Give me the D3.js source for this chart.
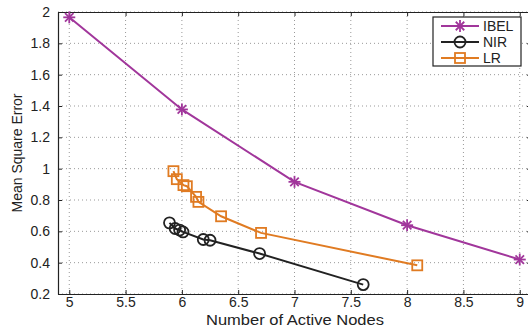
<!DOCTYPE html>
<html>
<head>
<meta charset="utf-8">
<script src="https://cdn.jsdelivr.net/npm/d3@7"></script>
<style>
  body { margin: 0; background: #fff; }
  text { font-family: "Liberation Sans", Arial, sans-serif; fill: #222; }
</style>
</head>
<body>
<svg id="chart" width="528" height="328"></svg>
<script>
// data
var ibelX = [5, 6, 7, 8, 9];
var ibelY = [1.966, 1.378, 0.916, 0.639, 0.42];
var nirX = [5.89, 5.94, 5.98, 6.01, 6.19, 6.25, 6.69, 7.61];
var nirY = [0.654, 0.618, 0.608, 0.596, 0.548, 0.543, 0.458, 0.26];
var lrX = [5.925, 5.955, 6.014, 6.044, 6.126, 6.147, 6.348, 6.703, 8.09];
var lrY = [0.984, 0.933, 0.895, 0.888, 0.82, 0.788, 0.696, 0.59, 0.383];
var xTicks = [5, 5.5, 6, 6.5, 7, 7.5, 8, 8.5, 9];
var yTicks = [0.2, 0.4, 0.6, 0.8, 1, 1.2, 1.4, 1.6, 1.8, 2];

var series = [
  {name: "IBEL", xs: ibelX, ys: ibelY, color: "#a1369b", marker: "star"},
  {name: "NIR", xs: nirX, ys: nirY, color: "#222222", marker: "circle"},
  {name: "LR", xs: lrX, ys: lrY, color: "#e07b22", marker: "square"}
];

var box = {left: 58, right: 531, top: 12, bottom: 294};

var x = d3.scaleLinear().domain([4.9, 9.1]).range([box.left, box.right]);
var y = d3.scaleLinear().domain([0.2, 2]).range([box.bottom, box.top]);

var svg = d3.select("#chart");

// dotted grid
svg.append("g").selectAll("line")
  .data(xTicks)
  .enter().append("line")
    .attr("x1", function(d) { return x(d); })
    .attr("x2", function(d) { return x(d); })
    .attr("y1", box.top).attr("y2", box.bottom)
    .attr("stroke", "#999").attr("stroke-width", 1)
    .attr("stroke-dasharray", "1,3");
svg.append("g").selectAll("line")
  .data(yTicks)
  .enter().append("line")
    .attr("y1", function(d) { return y(d); })
    .attr("y2", function(d) { return y(d); })
    .attr("x1", box.left).attr("x2", box.right)
    .attr("stroke", "#999").attr("stroke-width", 1)
    .attr("stroke-dasharray", "1,3");

// axes (ticks pointing inward, box around)
var fmt = function(d) { return d3.format("")(d); };
svg.append("g")
  .attr("transform", "translate(0," + box.bottom + ")")
  .call(d3.axisBottom(x).tickValues(xTicks).tickFormat(fmt).tickSizeInner(-4).tickSizeOuter(0).tickPadding(3));
svg.append("g")
  .attr("transform", "translate(" + box.left + ",0)")
  .call(d3.axisLeft(y).tickValues(yTicks).tickFormat(fmt).tickSizeInner(-4).tickSizeOuter(0).tickPadding(8));
svg.append("g")
  .attr("transform", "translate(0," + box.top + ")")
  .call(d3.axisTop(x).tickValues(xTicks).tickFormat("").tickSizeInner(-4).tickSizeOuter(0));
svg.append("g")
  .attr("transform", "translate(" + box.right + ",0)")
  .call(d3.axisRight(y).tickValues(yTicks).tickFormat("").tickSizeInner(-4).tickSizeOuter(0));

svg.selectAll(".domain").attr("stroke", "#222").attr("stroke-width", 1.2);
svg.selectAll(".tick line").attr("stroke", "#222");
svg.selectAll(".tick text").style("font-size", "14px").attr("fill", "#222");

// axis labels
svg.append("text")
  .attr("x", 295)
  .attr("y", 325)
  .attr("text-anchor", "middle")
  .attr("textLength", 178)
  .attr("lengthAdjust", "spacingAndGlyphs")
  .style("font-size", "14px")
  .text("Number of Active Nodes");
svg.append("text")
  .attr("transform", "translate(22," + ((box.top + box.bottom) / 2) + ") rotate(-90)")
  .attr("text-anchor", "middle")
  .style("font-size", "14px")
  .text("Mean Square Error");

function drawMarker(g, type, color) {
  if (type === "star") {
    var r = 6;
    [0, 45, 90, 135].forEach(function(a) {
      var rad = a * Math.PI / 180;
      g.append("line")
        .attr("x1", -r * Math.cos(rad)).attr("y1", -r * Math.sin(rad))
        .attr("x2", r * Math.cos(rad)).attr("y2", r * Math.sin(rad))
        .attr("stroke", color).attr("stroke-width", 1.8);
    });
  } else if (type === "circle") {
    g.append("circle").attr("r", 5.5)
      .attr("fill", "none").attr("stroke", color).attr("stroke-width", 1.8);
  } else {
    g.append("rect").attr("x", -5).attr("y", -5).attr("width", 10).attr("height", 10)
      .attr("fill", "none").attr("stroke", color).attr("stroke-width", 1.8);
  }
}

var line = d3.line()
  .x(function(d) { return x(d[0]); })
  .y(function(d) { return y(d[1]); });

series.forEach(function(s) {
  var pts = s.xs.map(function(v, i) { return [v, s.ys[i]]; });
  svg.append("path")
    .datum(pts)
    .attr("d", line)
    .attr("fill", "none")
    .attr("stroke", s.color)
    .attr("stroke-width", 2);
  svg.append("g").selectAll("g")
    .data(pts)
    .enter().append("g")
      .attr("transform", function(d) { return "translate(" + x(d[0]) + "," + y(d[1]) + ")"; })
      .each(function() { drawMarker(d3.select(this), s.marker, s.color); });
});

// legend
var lg = svg.append("g").attr("transform", "translate(433,17)");
lg.append("rect").attr("width", 88).attr("height", 49)
  .attr("fill", "#fff").attr("stroke", "#222").attr("stroke-width", 1.2);
series.forEach(function(s, i) {
  var ly = 9 + i * 16;
  lg.append("line").attr("x1", 8).attr("x2", 46).attr("y1", ly).attr("y2", ly)
    .attr("stroke", s.color).attr("stroke-width", 2);
  var m = lg.append("g").attr("transform", "translate(27," + ly + ")");
  drawMarker(m, s.marker, s.color);
  lg.append("text").attr("x", 50).attr("y", ly + 5)
    .style("font-size", "14px").text(s.name);
});
</script>
</body>
</html>
